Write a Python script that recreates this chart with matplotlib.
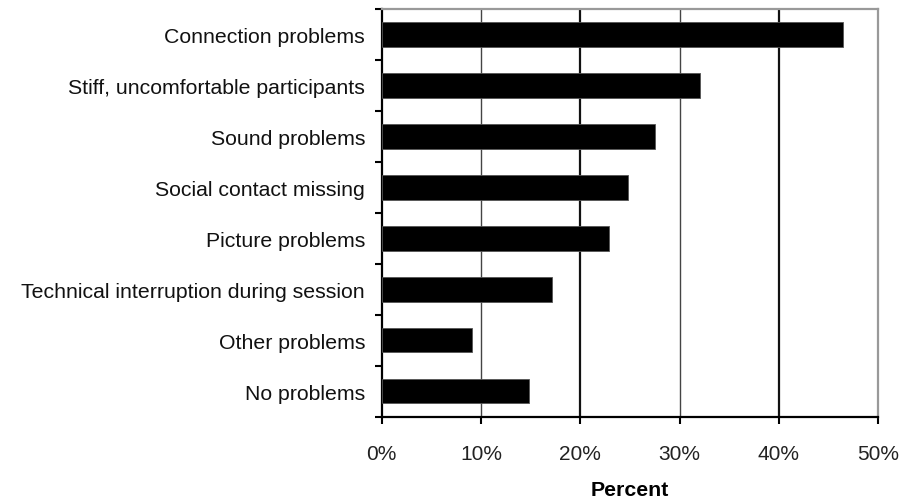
import matplotlib.pyplot as plt
import numpy as np

categories = [
    'Connection problems',
    'Stiff, uncomfortable participants',
    'Sound problems',
    'Social contact missing',
    'Picture problems',
    'Technical interruption during session',
    'Other problems',
    'No problems',
]
percent = [46.4, 32.0, 27.5, 24.8, 22.9, 17.1, 9.1, 14.8]
xticks = [0, 10, 20, 30, 40, 50]
xtick_labels = ['0%', '10%', '20%', '30%', '40%', '50%']

plt.rcParams['font.family'] = ['Liberation Sans', 'DejaVu Sans']

fig = plt.figure(figsize=(9.01, 5.02), dpi=100)
ax = fig.add_axes([0.4237, 0.168, 0.5511, 0.812])

y = np.arange(len(categories))
ax.barh(y, percent, height=0.48, color='black', edgecolor='#555555', linewidth=0.6, zorder=3)

# vertical gridlines, the 20/40 ones heavier
for xv in xticks[1:-1]:
    heavy = xv in (20, 40)
    ax.axvline(xv, color='#111111' if heavy else '#444444',
               lw=1.6 if heavy else 1.0, zorder=1)

ax.set_xlim(0, 50)
ax.set_ylim(len(categories) - 0.5, -0.5)
ax.set_xticks(xticks)
ax.set_xticklabels(xtick_labels, fontsize=15, color='#222222')
ax.set_yticks(y)
ax.set_yticklabels(categories, fontsize=15.3, color='#111111')
ax.set_yticks(np.arange(len(categories) + 1) - 0.5, minor=True)
ax.tick_params(axis='y', which='major', length=0, pad=12)
ax.tick_params(axis='y', which='minor', length=5, width=1.5, direction='out')
ax.tick_params(axis='x', length=5, width=1.5, direction='out', pad=15)

ax.set_xlabel('Percent', fontsize=15.3, fontweight='bold', labelpad=12)

for side in ('left', 'bottom'):
    ax.spines[side].set_color('black')
    ax.spines[side].set_linewidth(1.6)
for side in ('top', 'right'):
    ax.spines[side].set_color('#999999')
    ax.spines[side].set_linewidth(1.6)

fig.savefig('out.png', dpi=100, facecolor='white')
